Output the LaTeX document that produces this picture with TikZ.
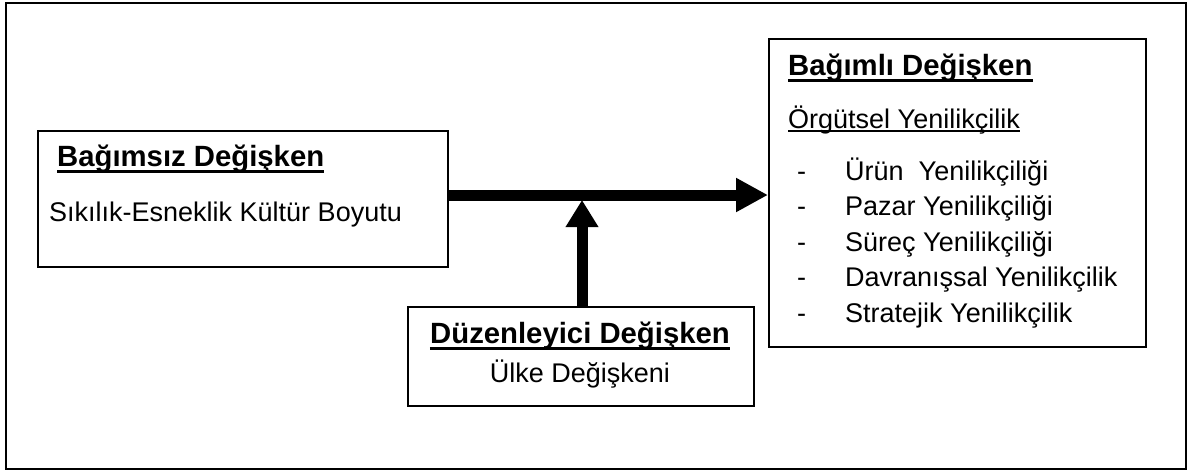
\documentclass[tikz,border=0pt]{standalone}
\usepackage{fontspec}
\setmainfont{Liberation Sans}
\usetikzlibrary{arrows.meta}
\begin{document}
\begin{tikzpicture}[x=1pt,y=-1pt,
  frame/.style={draw=black,line width=2.2pt},
  boxnode/.style={draw=black,line width=2pt,inner sep=0pt,anchor=north west},
  ttl/.style={inner sep=0pt,anchor=base west,font=\fontsize{29.3}{34}\selectfont\bfseries},
  txt/.style={inner sep=0pt,anchor=base west,font=\fontsize{27}{32}\selectfont},
  ulbold/.style={line width=3pt},
  ulreg/.style={line width=1.6pt},
  bigarrow/.style={line width=11pt,-{Triangle[length=32pt,width=32pt]}}
]
\useasboundingbox (0,0) rectangle (1199,471);
\node[frame,inner sep=0pt,anchor=north west,minimum width=1180pt,minimum height=466pt] (outer) at (5,2) {};

% left box
\node[boxnode,minimum width=410pt,minimum height=136pt] (left) at (37,130) {};
\node[ttl] (lt) at (57,166) {Bağımsız Değişken};
\draw[ulbold] ([yshift=-5.5pt]lt.base west) -- ([yshift=-5.5pt]lt.base east);
\node[txt] (ls) at (49,221) {Sıkılık-Esneklik Kültür Boyutu};

% right box
\node[boxnode,minimum width=377pt,minimum height=308pt] (right) at (768,38) {};
\node[ttl] (rt) at (788,75) {Bağımlı Değişken};
\draw[ulbold] ([yshift=-5.5pt]rt.base west) -- ([yshift=-5.5pt]rt.base east);
\node[txt] (rs) at (788,128) {Örgütsel Yenilikçilik};
\draw[ulreg] ([yshift=-3pt]rs.base west) -- ([yshift=-3pt]rs.base east);
\node[txt] (d1) at (797,180) {-};
\node[txt] (i1) at (845,180) {Ürün\ \ Yenilikçiliği};
\node[txt] (d2) at (797,215.5) {-};
\node[txt] (i2) at (845,215.5) {Pazar Yenilikçiliği};
\node[txt] (d3) at (797,251) {-};
\node[txt] (i3) at (845,251) {Süreç Yenilikçiliği};
\node[txt] (d4) at (797,286.5) {-};
\node[txt] (i4) at (845,286.5) {Davranışsal Yenilikçilik};
\node[txt] (d5) at (797,322) {-};
\node[txt] (i5) at (845,322) {Stratejik Yenilikçilik};

% bottom box
\node[boxnode,minimum width=346pt,minimum height=99pt] (bot) at (407,306) {};
\node[ttl,anchor=base] (bt) at (580,343) {Düzenleyici Değişken};
\draw[ulbold] ([yshift=-5.5pt]bt.base west) -- ([yshift=-5.5pt]bt.base east);
\node[txt,anchor=base] (bs) at (580,382) {Ülke Değişkeni};

% arrows
\coordinate (hstart) at (left.east |- 0,195);
\coordinate (hend) at (right.west |- 0,195);
\draw[bigarrow] (hstart) -- (hend);
\coordinate (vtop) at (582,200);
\draw[bigarrow,-{Triangle[length=27pt,width=31pt]}] (bot.north -| vtop) -- (vtop);
\end{tikzpicture}
\end{document}
